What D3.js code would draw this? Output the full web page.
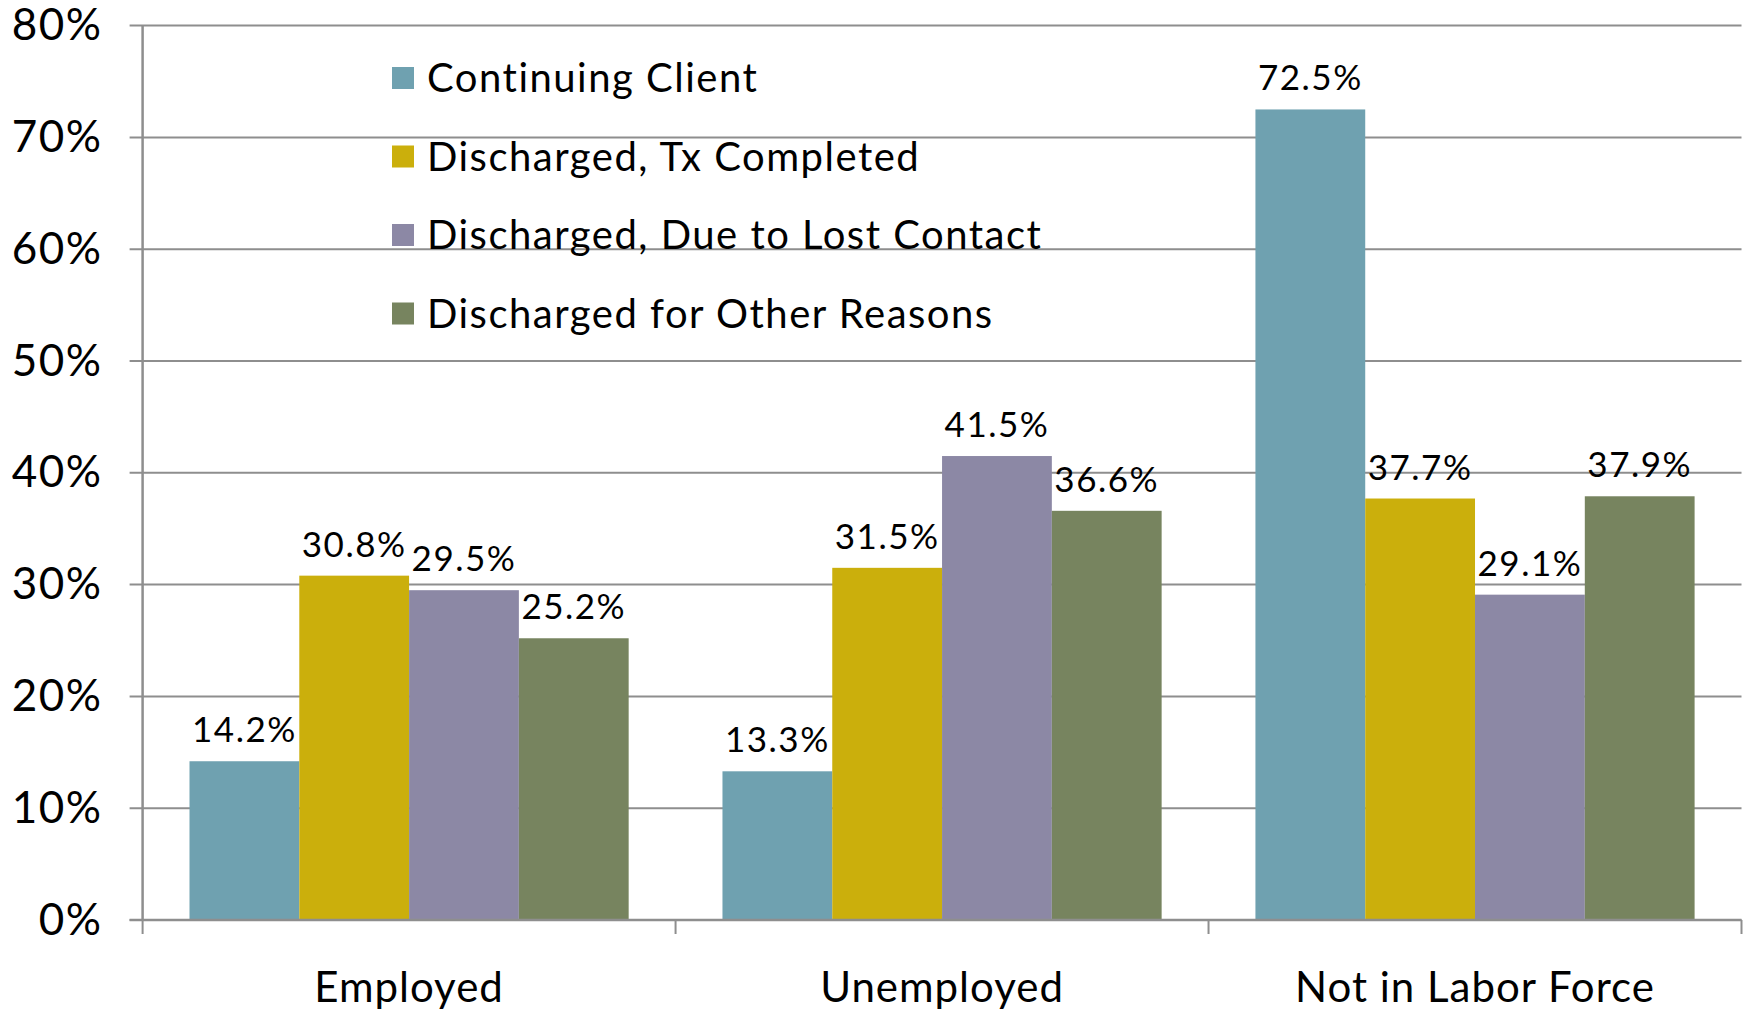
<!DOCTYPE html>
<html>
<head>
<meta charset="utf-8">
<script src="https://cdn.jsdelivr.net/npm/d3@7"></script>
<style>
  html, body { margin: 0; padding: 0; background: #fff; }
  svg { display: block; font-family: Lato, "Open Sans", sans-serif; }
</style>
</head>
<body>
<div id="chart"></div>
<script>
// Employment status by discharge status
const categories = ["Employed", "Unemployed", "Not in Labor Force"];
const seriesNames = [
  "Continuing Client",
  "Discharged, Tx Completed",
  "Discharged, Due to Lost Contact",
  "Discharged for Other Reasons",
];
const seriesColors = ["#6fa1b0", "#cbaf0c", "#8c88a5", "#77845f"];
// values per series, one per category (percent)
const continuing = [14.2, 13.3, 72.5];
const txCompleted = [30.8, 31.5, 37.7];
const lostContact = [29.5, 41.5, 29.1];
const otherReasons = [25.2, 36.6, 37.9];
const yTicks = [0, 10, 20, 30, 40, 50, 60, 70, 80];

const seriesValues = [continuing, txCompleted, lostContact, otherReasons];

const width = 1747, height = 1013;
const margin = { top: 25.6, right: 5.5, bottom: 93, left: 142.6 };
const gridColor = "#8e8e8e";

const svg = d3.select("#chart").append("svg")
  .attr("width", width)
  .attr("height", height);

const x0 = d3.scaleBand()
  .domain(categories)
  .range([margin.left, width - margin.right])
  .paddingInner(0.176)
  .paddingOuter(0.088);

const x1 = d3.scaleBand()
  .domain(d3.range(seriesNames.length))
  .range([0, x0.bandwidth()]);

const y = d3.scaleLinear()
  .domain([0, 80])
  .range([height - margin.bottom, margin.top]);

// gridlines (drawn under the bars)
svg.append("g")
  .selectAll("line")
  .data(yTicks)
  .join("line")
  .attr("x1", margin.left - 13)
  .attr("x2", width - margin.right)
  .attr("y1", d => y(d))
  .attr("y2", d => y(d))
  .attr("stroke", gridColor)
  .attr("stroke-width", 2);

// y axis labels
const yAxis = svg.append("g")
  .attr("transform", `translate(${margin.left},0)`)
  .call(d3.axisLeft(y).tickValues(yTicks).tickFormat(d => d + "%").tickSize(13).tickPadding(27));
yAxis.select(".domain").remove();
yAxis.selectAll(".tick line").remove();
yAxis.selectAll(".tick text")
  .attr("fill", "#000")
  .attr("font-size", 44)
  .attr("letter-spacing", 1.5)
  .attr("font-family", "Lato, sans-serif");

// bars
const groups = svg.append("g")
  .selectAll("g")
  .data(categories)
  .join("g")
  .attr("transform", d => `translate(${x0(d)},0)`);

groups.selectAll("rect")
  .data((c, ci) => seriesValues.map((vals, si) => ({ si, v: vals[ci] })))
  .join("rect")
  .attr("x", d => x1(d.si))
  .attr("width", x1.bandwidth())
  .attr("y", d => y(d.v))
  .attr("height", d => y(0) - y(d.v))
  .attr("fill", d => seriesColors[d.si]);

// value labels
groups.selectAll("text")
  .data((c, ci) => seriesValues.map((vals, si) => ({ si, v: vals[ci] })))
  .join("text")
  .attr("x", d => x1(d.si) + x1.bandwidth() / 2)
  .attr("y", d => y(d.v) - 19)
  .attr("text-anchor", "middle")
  .attr("font-size", 35)
  .attr("letter-spacing", 1.5)
  .attr("fill", "#000")
  .text(d => d.v.toFixed(1) + "%");

// axes lines
svg.append("line")
  .attr("x1", margin.left).attr("x2", margin.left)
  .attr("y1", margin.top).attr("y2", y(0))
  .attr("stroke", gridColor).attr("stroke-width", 2.5);

svg.append("line")
  .attr("x1", margin.left - 13).attr("x2", width - margin.right)
  .attr("y1", y(0)).attr("y2", y(0))
  .attr("stroke", gridColor).attr("stroke-width", 2.5);

// category separator ticks
const sepX = categories.map(c => x0(c) - x0.step() * x0.paddingOuter())
  .concat([width - margin.right]);
svg.append("g")
  .selectAll("line")
  .data(sepX)
  .join("line")
  .attr("x1", d => d).attr("x2", d => d)
  .attr("y1", y(0)).attr("y2", y(0) + 14)
  .attr("stroke", gridColor).attr("stroke-width", 2);

// category labels
svg.append("g")
  .selectAll("text")
  .data(categories)
  .join("text")
  .attr("x", d => x0(d) + x0.bandwidth() / 2)
  .attr("y", 1002)
  .attr("text-anchor", "middle")
  .attr("font-size", 42)
  .attr("letter-spacing", 1)
  .attr("fill", "#000")
  .text(d => d);

// legend
const legend = svg.append("g")
  .selectAll("g")
  .data(seriesNames)
  .join("g")
  .attr("transform", (d, i) => `translate(392,${78 + i * 78.5})`);
legend.append("rect")
  .attr("x", 0).attr("y", -11)
  .attr("width", 22).attr("height", 22)
  .attr("fill", (d, i) => seriesColors[i]);
legend.append("text")
  .attr("x", 35)
  .attr("y", 0)
  .attr("dy", "0.35em")
  .attr("font-size", 40)
  .attr("letter-spacing", 1.5)
  .attr("fill", "#000")
  .text(d => d);
</script>
</body>
</html>
